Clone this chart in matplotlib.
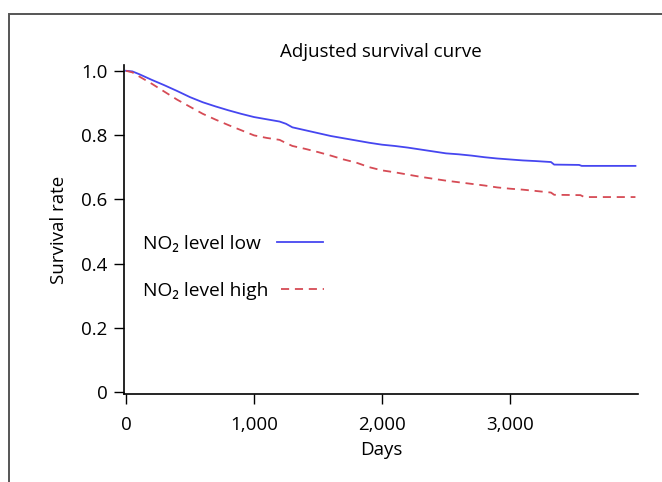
import matplotlib
matplotlib.use("Agg")
import matplotlib.pyplot as plt
from matplotlib.lines import Line2D
from matplotlib.patches import Rectangle

plt.rcParams['font.family'] = ['Open Sans', 'DejaVu Sans']

# Data (adjusted survival curves)
days_low = [0, 50, 100, 200, 300, 400, 500, 600, 700, 800, 900, 1000, 1100,
            1200, 1250, 1300, 1400, 1500, 1600, 1700, 1800, 1900, 2000, 2100,
            2200, 2300, 2400, 2500, 2600, 2700, 2800, 2900, 3000, 3100, 3200,
            3320, 3345, 3540, 3560, 3980]
surv_low = [1.0, 0.998, 0.99, 0.972, 0.955, 0.937, 0.918, 0.902, 0.889, 0.877,
            0.866, 0.856, 0.849, 0.842, 0.835, 0.824, 0.815, 0.806, 0.797, 0.79,
            0.783, 0.776, 0.77, 0.766, 0.761, 0.755, 0.749, 0.743, 0.74, 0.736,
            0.731, 0.727, 0.724, 0.721, 0.719, 0.716, 0.708, 0.707, 0.704, 0.704]

days_high = [0, 50, 100, 200, 300, 400, 500, 600, 700, 800, 900, 1000, 1100,
             1200, 1250, 1300, 1400, 1500, 1600, 1700, 1800, 1900, 2000, 2100,
             2200, 2300, 2400, 2500, 2600, 2700, 2800, 2900, 3000, 3100, 3200,
             3320, 3345, 3550, 3580, 3980]
surv_high = [1.0, 0.995, 0.983, 0.96, 0.935, 0.91, 0.888, 0.866, 0.848, 0.831,
             0.815, 0.799, 0.791, 0.785, 0.775, 0.766, 0.757, 0.747, 0.736,
             0.724, 0.714, 0.70, 0.69, 0.684, 0.677, 0.67, 0.664, 0.658, 0.653,
             0.648, 0.643, 0.637, 0.633, 0.63, 0.626, 0.621, 0.614, 0.613,
             0.607, 0.607]

x_ticks = [0, 1000, 2000, 3000]
x_tick_labels = ["0", "1,000", "2,000", "3,000"]
y_ticks = [0, 0.2, 0.4, 0.6, 0.8, 1.0]
y_tick_labels = ["0", "0.2", "0.4", "0.6", "0.8", "1.0"]
label_low = "NO\u2082 level low"
label_high = "NO\u2082 level high"

W, H = 662, 482
fig = plt.figure(figsize=(W / 100, H / 100), dpi=100)

# outer frame (extends beyond right/bottom edges)
fig.patches.append(Rectangle((9 / W, -0.1), 1.2, 1 - 14 / H + 0.1,
                             transform=fig.transFigure, fill=False,
                             edgecolor="#555555", linewidth=1.4))

ax = fig.add_axes([124 / W, 88 / H, 514 / W, 329 / H])
col_low = "#4646f0"
col_high = "#d64b55"
ax.plot(days_low, surv_low, color=col_low, lw=1.3)
ax.plot(days_high, surv_high, color=col_high, lw=1.3, dashes=(4.5, 3.2))

ax.set_xlim(-15.6, 4000)
ax.set_ylim(-0.006, 1.018)
for s in ["top", "right"]:
    ax.spines[s].set_visible(False)
for s in ["left", "bottom"]:
    ax.spines[s].set_linewidth(1.2)
ax.set_xticks(x_ticks)
ax.set_xticklabels(x_tick_labels)
ax.set_yticks(y_ticks)
ax.set_yticklabels(y_tick_labels)
ax.tick_params(axis="both", direction="out", length=7, width=1.0,
               labelsize=13.5, colors="black")
ax.tick_params(axis="x", pad=9)
ax.tick_params(axis="y", pad=5)
ax.set_xlabel("Days", fontsize=13.5, labelpad=5)
ax.set_ylabel("Survival rate", fontsize=13.5, labelpad=9)
ax.set_title("Adjusted survival curve", fontsize=13.5, pad=6)

h_low = Line2D([], [], color=col_low, lw=1.3)
h_high = Line2D([], [], color=col_high, lw=1.3, dashes=(4.5, 3.2))
leg1 = ax.legend([h_low], [label_low], loc="center left",
                 bbox_to_anchor=(143 / W, (H - 244) / H),
                 bbox_transform=fig.transFigure, frameon=False,
                 markerfirst=False, fontsize=13.8, borderpad=0, borderaxespad=0,
                 handlelength=2.4, handletextpad=0.83)
ax.add_artist(leg1)
leg2 = ax.legend([h_high], [label_high], loc="center left",
                 bbox_to_anchor=(143 / W, (H - 291) / H),
                 bbox_transform=fig.transFigure, frameon=False,
                 markerfirst=False, fontsize=13.8, borderpad=0, borderaxespad=0,
                 handlelength=2.24, handletextpad=0.68)

fig.savefig("out.png", dpi=100)
